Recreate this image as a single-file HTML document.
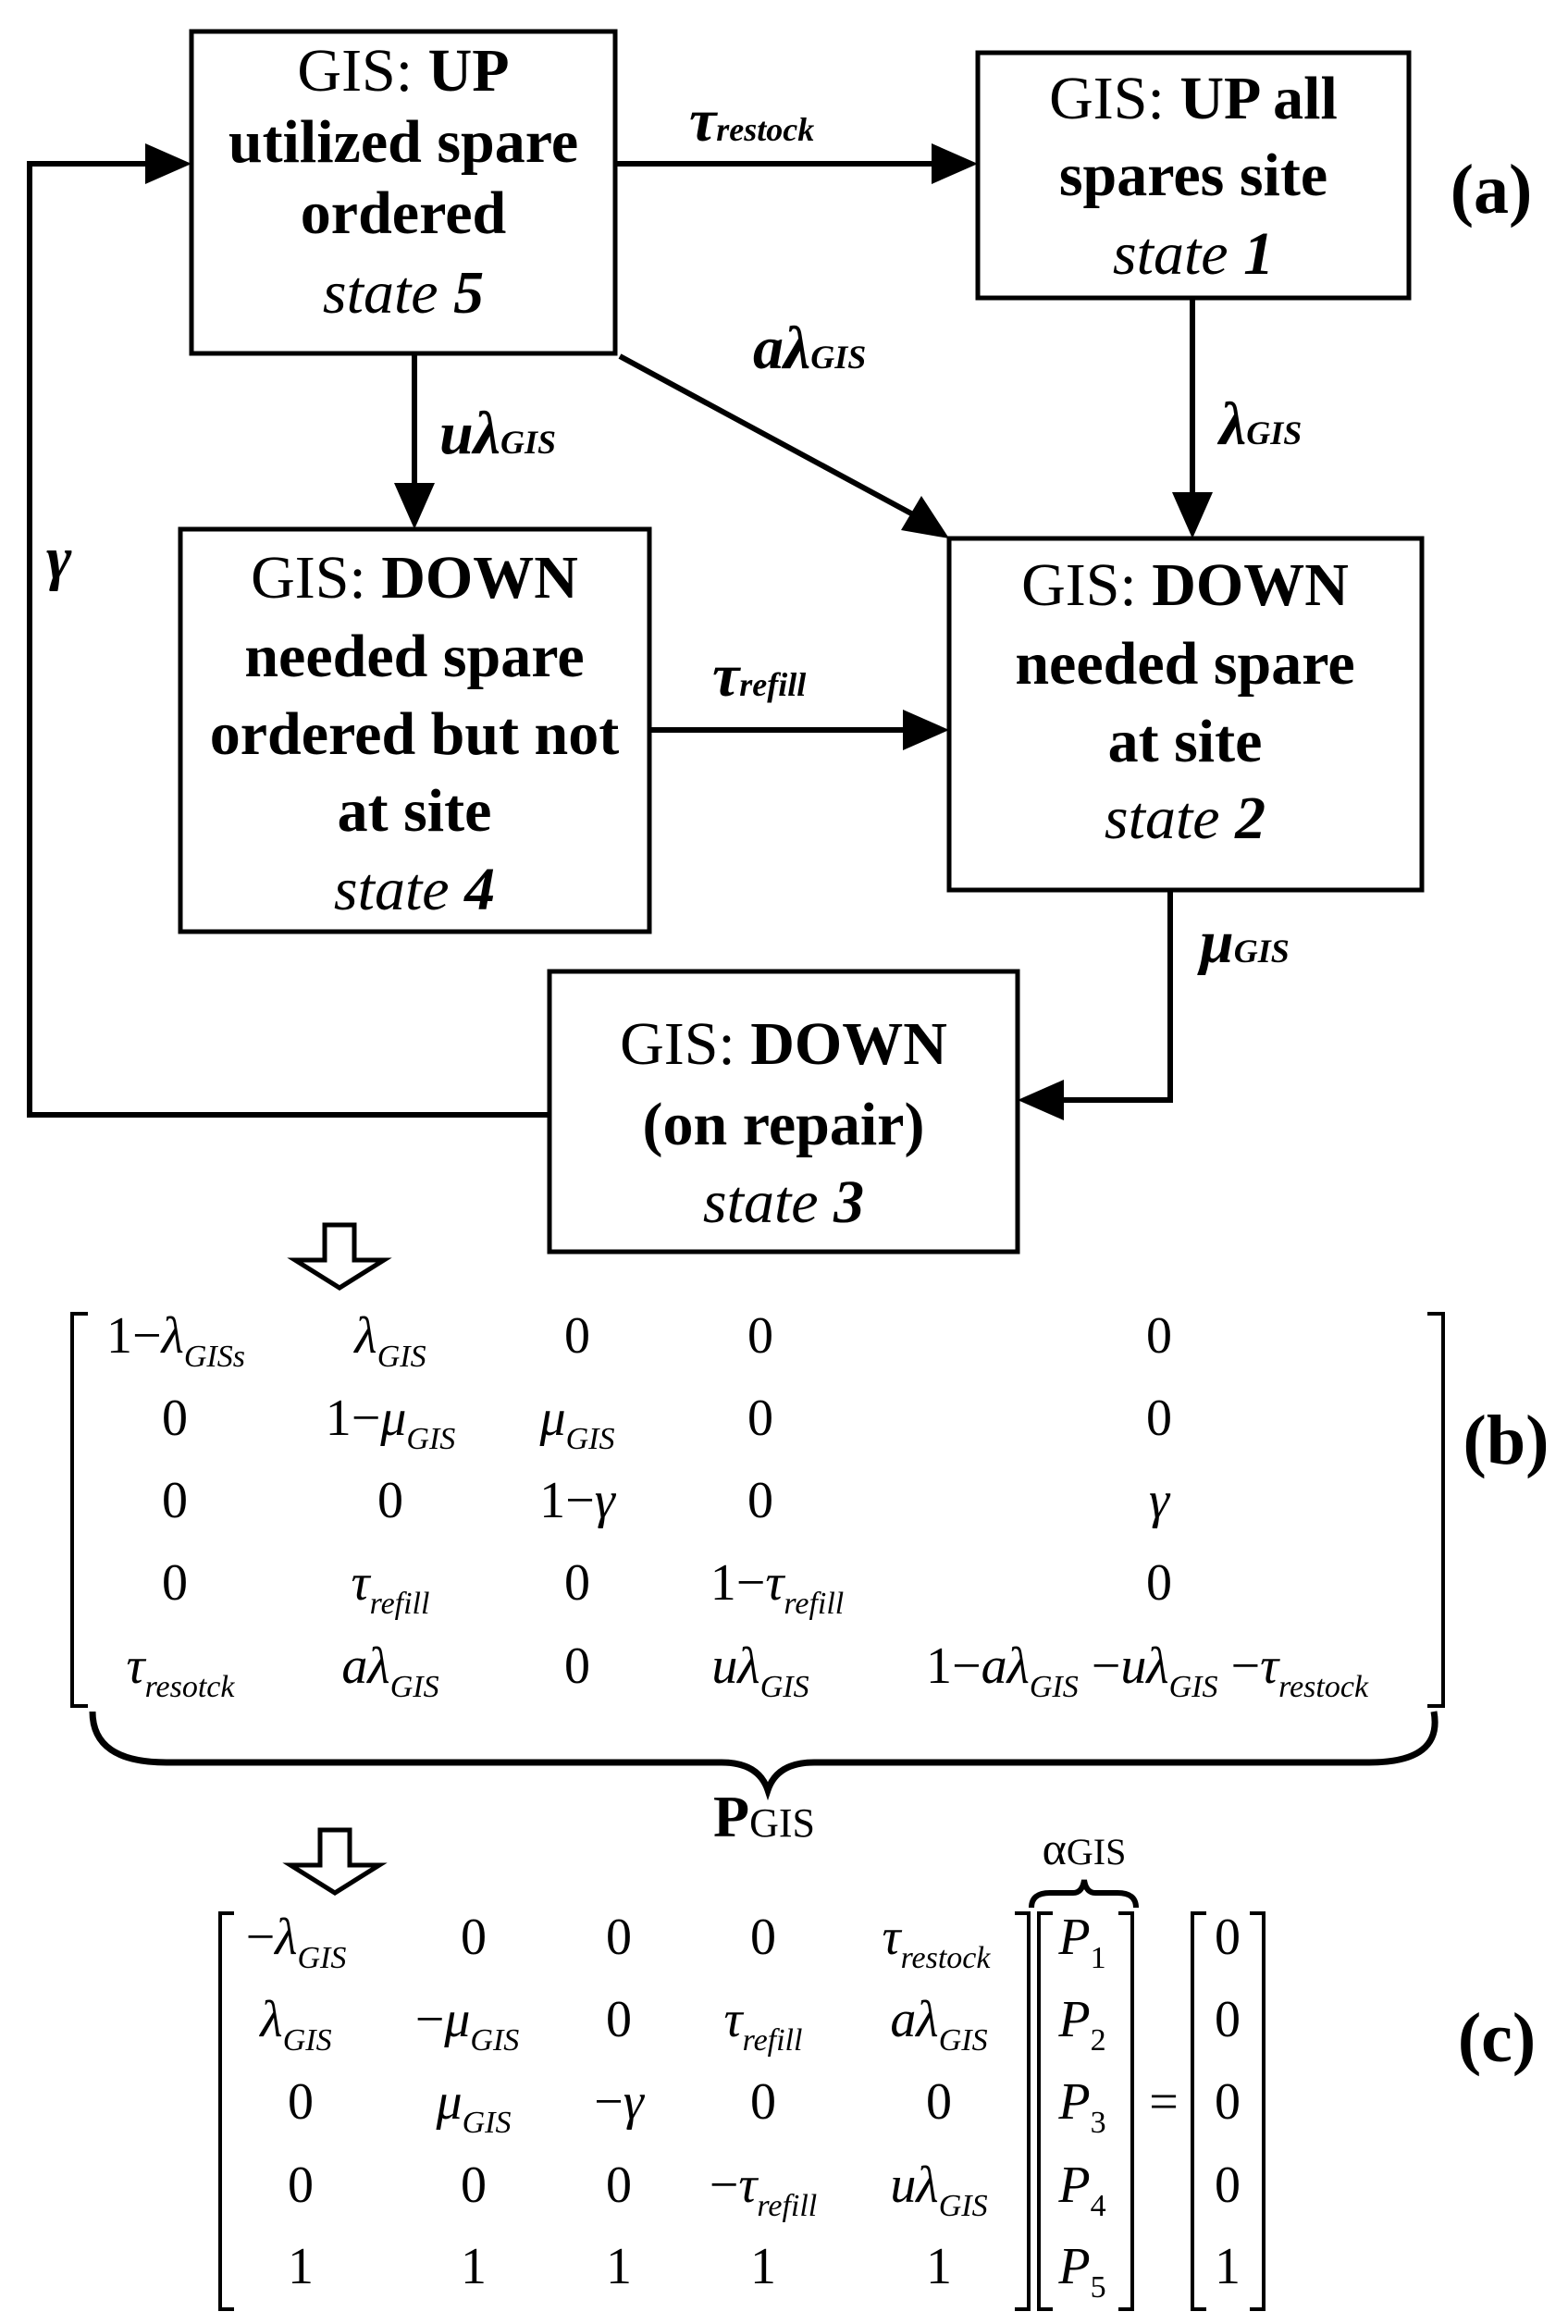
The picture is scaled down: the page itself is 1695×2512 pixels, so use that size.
<!DOCTYPE html>
<html><head><meta charset="utf-8"><style>
html,body{margin:0;padding:0;background:#fff;}
svg{display:block;font-family:"Liberation Serif","Times New Roman",serif;}
.b{font-family:"Liberation Serif","Times New Roman",serif;font-size:66px;fill:#000;}
.m{font-family:"Liberation Serif","Times New Roman",serif;font-size:56px;fill:#000;}
</style></head><body>
<svg width="1695" height="2512" viewBox="0 0 1695 2512" xmlns="http://www.w3.org/2000/svg" font-family="Liberation Serif, serif">
<g fill="none" stroke="#000" stroke-width="5">
<rect x="207" y="34" width="458" height="348"/>
<rect x="1057" y="57" width="466" height="265"/>
<rect x="195" y="572" width="507" height="435"/>
<rect x="1026" y="582" width="511" height="380"/>
<rect x="594" y="1050" width="506" height="303"/>
</g>
<g stroke="#000" stroke-width="6" fill="none">
<line x1="665" y1="177" x2="1010" y2="177"/>
<line x1="448" y1="382" x2="448" y2="525"/>
<line x1="1289" y1="322" x2="1289" y2="535"/>
<line x1="702" y1="789" x2="980" y2="789"/>
<line x1="670" y1="385" x2="985" y2="555"/>
<polyline points="1265,962 1265,1189 1145,1189"/>
<polyline points="594,1205 32,1205 32,177 160,177"/>
</g>
<g fill="#000">
<polygon points="1057,177 1007,155 1007,199"/>
<polygon points="448,572 426,522 470,522"/>
<polygon points="1289,582 1267,532 1311,532"/>
<polygon points="1026,789 976,767 976,811"/>
<polygon points="1026,582 974,573 996,536"/>
<polygon points="1100,1189 1150,1167 1150,1211"/>
<polygon points="207,177 157,155 157,199"/>
</g>
<g class="b" text-anchor="middle">
<text x="436" y="98">GIS: <tspan font-weight="bold">UP</tspan></text>
<text x="436" y="175" font-weight="bold">utilized spare</text>
<text x="436" y="252" font-weight="bold">ordered</text>
<text x="436" y="338" font-style="italic">state <tspan font-weight="bold">5</tspan></text>
<text x="1290" y="128">GIS: <tspan font-weight="bold">UP all</tspan></text>
<text x="1290" y="211" font-weight="bold">spares site</text>
<text x="1290" y="296" font-style="italic">state <tspan font-weight="bold">1</tspan></text>
<text x="448" y="646">GIS: <tspan font-weight="bold">DOWN</tspan></text>
<text x="448" y="731" font-weight="bold">needed spare</text>
<text x="448" y="815" font-weight="bold">ordered but not</text>
<text x="448" y="898" font-weight="bold">at site</text>
<text x="448" y="983" font-style="italic">state <tspan font-weight="bold">4</tspan></text>
<text x="1281" y="654">GIS: <tspan font-weight="bold">DOWN</tspan></text>
<text x="1281" y="739" font-weight="bold">needed spare</text>
<text x="1281" y="823" font-weight="bold">at site</text>
<text x="1281" y="906" font-style="italic">state <tspan font-weight="bold">2</tspan></text>
<text x="847" y="1150">GIS: <tspan font-weight="bold">DOWN</tspan></text>
<text x="847" y="1237" font-weight="bold">(on repair)</text>
<text x="847" y="1321" font-style="italic">state <tspan font-weight="bold">3</tspan></text>
<text x="1612" y="230" font-size="76" font-weight="bold">(a)</text>
<text x="1628" y="1582" font-size="76" font-weight="bold">(b)</text>
<text x="1618" y="2228" font-size="76" font-weight="bold">(c)</text>
</g>
<g class="b" font-weight="bold" font-style="italic" font-size="56">
<text x="745" y="152">τ<tspan font-size="36">restock</tspan></text>
<text x="814" y="398">aλ<tspan font-size="36">GIS</tspan></text>
<text x="475" y="490">uλ<tspan font-size="36">GIS</tspan></text>
<text x="1318" y="480">λ<tspan font-size="36">GIS</tspan></text>
<text x="770" y="752">τ<tspan font-size="36">refill</tspan></text>
<text x="1297" y="1040">μ<tspan font-size="36">GIS</tspan></text>
<text x="50" y="625">γ</text>
</g>
<g fill="#fff" stroke="#000" stroke-width="5">
<polygon points="351,1324 383,1324 383,1362 415,1362 367,1392 319,1362 351,1362"/>
<polygon points="346,1978 378,1978 378,2016 410,2016 362,2046 314,2016 346,2016"/>
</g>
<g fill="none" stroke="#000" stroke-width="4">
<polyline points="95,1420 78,1420 78,1844 95,1844"/>
<polyline points="1543,1420 1560,1420 1560,1844 1543,1844"/>
<path d="M100,1850 Q100,1905 180,1905 L780,1905 Q820,1905 830,1935 Q840,1905 880,1905 L1480,1905 Q1560,1905 1550,1850" stroke-width="7"/>
<polyline points="253,2068 238,2068 238,2496 253,2496"/>
<polyline points="1097,2068 1112,2068 1112,2496 1097,2496"/>
<polyline points="1138,2068 1123,2068 1123,2496 1138,2496"/>
<polyline points="1209,2068 1224,2068 1224,2496 1209,2496"/>
<polyline points="1304,2068 1289,2068 1289,2496 1304,2496"/>
<polyline points="1351,2068 1366,2068 1366,2496 1351,2496"/>
<path d="M1115,2062 Q1115,2046 1135,2046 L1160,2046 Q1170,2046 1172,2032 Q1174,2046 1184,2046 L1208,2046 Q1228,2046 1228,2062" stroke-width="6"/>
</g>
<g class="m" text-anchor="middle">
<text x="190" y="1462">1−<tspan font-style="italic">λ</tspan><tspan font-style="italic" font-size="34" dy="15">GISs</tspan></text>
<text x="422" y="1462"><tspan font-style="italic">λ</tspan><tspan font-style="italic" font-size="34" dy="15">GIS</tspan></text>
<text x="624" y="1462">0</text><text x="822" y="1462">0</text><text x="1253" y="1462">0</text>
<text x="189" y="1551">0</text>
<text x="422" y="1551">1−<tspan font-style="italic">μ</tspan><tspan font-style="italic" font-size="34" dy="15">GIS</tspan></text>
<text x="624" y="1551"><tspan font-style="italic">μ</tspan><tspan font-style="italic" font-size="34" dy="15">GIS</tspan></text>
<text x="822" y="1551">0</text><text x="1253" y="1551">0</text>
<text x="189" y="1640">0</text><text x="422" y="1640">0</text>
<text x="624" y="1640">1−<tspan font-style="italic">γ</tspan></text>
<text x="822" y="1640">0</text><text x="1253" y="1640"><tspan font-style="italic">γ</tspan></text>
<text x="189" y="1729">0</text>
<text x="422" y="1729"><tspan font-style="italic">τ</tspan><tspan font-style="italic" font-size="34" dy="15">refill</tspan></text>
<text x="624" y="1729">0</text>
<text x="840" y="1729">1−<tspan font-style="italic">τ</tspan><tspan font-style="italic" font-size="34" dy="15">refill</tspan></text>
<text x="1253" y="1729">0</text>
<text x="195" y="1819"><tspan font-style="italic">τ</tspan><tspan font-style="italic" font-size="34" dy="15">resotck</tspan></text>
<text x="422" y="1819"><tspan font-style="italic">aλ</tspan><tspan font-style="italic" font-size="34" dy="15">GIS</tspan></text>
<text x="624" y="1819">0</text>
<text x="822" y="1819"><tspan font-style="italic">uλ</tspan><tspan font-style="italic" font-size="34" dy="15">GIS</tspan></text>
<text x="1240" y="1819">1−<tspan font-style="italic">aλ</tspan><tspan font-style="italic" font-size="34" dy="15">GIS</tspan><tspan dy="-15"> −</tspan><tspan font-style="italic">uλ</tspan><tspan font-style="italic" font-size="34" dy="15">GIS</tspan><tspan dy="-15"> −</tspan><tspan font-style="italic">τ</tspan><tspan font-style="italic" font-size="34" dy="15">restock</tspan></text>
<text x="826" y="1985" font-weight="bold" font-size="64">P<tspan font-weight="normal" font-size="44">GIS</tspan></text>
<text x="1172" y="2015" font-size="50">α<tspan font-size="40">GIS</tspan></text>
<text x="320" y="2112">−<tspan font-style="italic">λ</tspan><tspan font-style="italic" font-size="34" dy="15">GIS</tspan></text>
<text x="512" y="2112">0</text><text x="669" y="2112">0</text><text x="825" y="2112">0</text>
<text x="1012" y="2112"><tspan font-style="italic">τ</tspan><tspan font-style="italic" font-size="34" dy="15">restock</tspan></text>
<text x="320" y="2201"><tspan font-style="italic">λ</tspan><tspan font-style="italic" font-size="34" dy="15">GIS</tspan></text>
<text x="505" y="2201">−<tspan font-style="italic">μ</tspan><tspan font-style="italic" font-size="34" dy="15">GIS</tspan></text>
<text x="669" y="2201">0</text>
<text x="825" y="2201"><tspan font-style="italic">τ</tspan><tspan font-style="italic" font-size="34" dy="15">refill</tspan></text>
<text x="1015" y="2201"><tspan font-style="italic">aλ</tspan><tspan font-style="italic" font-size="34" dy="15">GIS</tspan></text>
<text x="325" y="2290">0</text>
<text x="512" y="2290"><tspan font-style="italic">μ</tspan><tspan font-style="italic" font-size="34" dy="15">GIS</tspan></text>
<text x="669" y="2290">−<tspan font-style="italic">γ</tspan></text>
<text x="825" y="2290">0</text><text x="1015" y="2290">0</text>
<text x="325" y="2380">0</text><text x="512" y="2380">0</text><text x="669" y="2380">0</text>
<text x="825" y="2380">−<tspan font-style="italic">τ</tspan><tspan font-style="italic" font-size="34" dy="15">refill</tspan></text>
<text x="1015" y="2380"><tspan font-style="italic">uλ</tspan><tspan font-style="italic" font-size="34" dy="15">GIS</tspan></text>
<text x="325" y="2468">1</text><text x="512" y="2468">1</text><text x="669" y="2468">1</text><text x="825" y="2468">1</text><text x="1015" y="2468">1</text>
<text x="1170" y="2112"><tspan font-style="italic">P</tspan><tspan font-size="34" dy="15">1</tspan></text>
<text x="1170" y="2201"><tspan font-style="italic">P</tspan><tspan font-size="34" dy="15">2</tspan></text>
<text x="1170" y="2290"><tspan font-style="italic">P</tspan><tspan font-size="34" dy="15">3</tspan></text>
<text x="1170" y="2380"><tspan font-style="italic">P</tspan><tspan font-size="34" dy="15">4</tspan></text>
<text x="1170" y="2468"><tspan font-style="italic">P</tspan><tspan font-size="34" dy="15">5</tspan></text>
<text x="1258" y="2290">=</text>
<text x="1327" y="2112">0</text><text x="1327" y="2201">0</text><text x="1327" y="2290">0</text><text x="1327" y="2380">0</text><text x="1327" y="2468">1</text>
</g>
</svg>
</body></html>
